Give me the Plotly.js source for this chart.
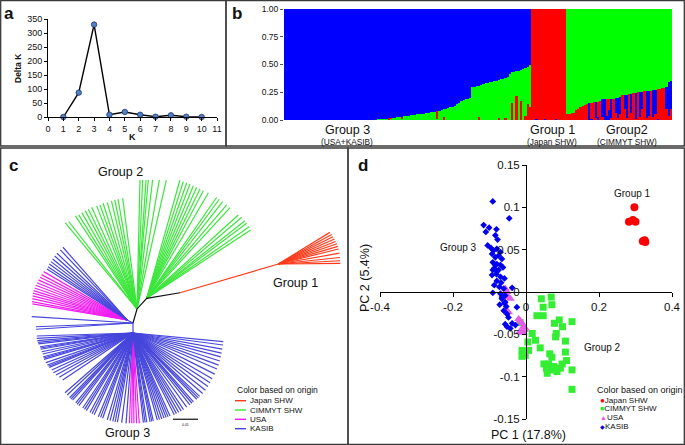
<!DOCTYPE html>
<html><head><meta charset="utf-8">
<script src="https://cdn.plot.ly/plotly-3.0.1.min.js"></script>
<style>html,body{margin:0;padding:0;background:#fff;}#chart{width:685px;height:445px;}</style>
</head><body><div id="chart"></div>
<script>
// ---------- Panel a: Delta K ----------
const kValues = [1,2,3,4,5,6,7,8,9,10];
const deltaK  = [0,87,330,8,18,8,1,6,1,0];

// ---------- Panel b: STRUCTURE K=3 ----------
const group3NonBlue = [0,0,0,0,0,0,0,0,0,0, 0,0,0,0,0,0,0,0,0,0, 0,0,0,0,0,0,0,0,0,0, 0,0,0,0,0,0,0,0,0,0,
  .002,.004,.005,.006,.008,.010,.012,.014,.016,.020,
  .022,.025,.027,.030,.032,.035,.038,.042,.045,.047,
  .050,.052,.055,.058,.060,.064,.068,.072,.076,.080,
  .085,.090,.095,.100,.107,.113,.120,.130,.140,.155,
  .170,.180,.185,.190,.200,.295,.300,.305,.310,.318,
  .325,.330,.335,.340,.345,.350,.355,.360,.365,.370,
  .375,.390,.410,.430,.435,.440,.445,.450,.460,.465,
  .480,.500];
const group3Red = [0,0,0,0,0,0,0,0,0,0, 0,0,0,0,0,0,0,0,0,0, 0,0,0,0,0,0,0,0,0,0, 0,0,0,0,0,0,0,0,0,0,
  0,0,0,0,0,0,0,.012,.010,0,
  0,0,0,.020,0,0,0,0,0,0,
  0,0,0,0,0,0,0,0,0,.070,
  0,0,.030,0,0,0,0,0,0,0,
  0,0,0,0,0,0,0,0,.030,0,
  0,0,0,0,0,0,0,.020,0,0,
  .020,0,0,.150,0,.220,0,.170,0,.040,
  .140,.120];
const group1Red = [1,1,.99,1,1,1,.995,1,1,1,1,.99,1,1,1,1];
const group2NonGreen = [.055,.058,.060,.060,.090,.100,.120,.130,.135,.140,
  .150,.155,.160,.160,.165,.170,.185,.186,.188,.190,
  .190,.192,.195,.200,.210,.222,.225,.228,.230,.235,
  .240,.245,.248,.250,.255,.258,.260,.262,.265,.270,
  .272,.275,.280,.285,.290,.300,.340,.350];
const group2Red = [.055,.058,.060,.060,.090,.100,.120,.130,.135,.140,
  0,.150,.160,.020,.140,.170,.030,0,.150,.100,
  .020,.190,.060,.020,.050,.220,.100,.020,.230,.060,
  .240,.010,.245,.030,.100,.255,.020,.040,.265,.030,
  .050,.270,.280,.285,.290,.100,.040,.100];
const structureGroups = ['Group 3','Group 1','Group2'];
const structureSubs = ['(USA+KASIB)','(Japan SHW)','(CIMMYT SHW)'];

// ---------- Panel c: unrooted tree (angles in degrees, branch lengths) ----------
// internal edges: hub->g1, g1->g2, g2->redBase, redBase->redNode, hub->U, hub->L
const innerAngles  = [74, 47.8, 9.5, 16.3, 153, 270];
const innerLengths = [14.6, 14.4, 33.8, 102.4, 6.7, 10];
const redAngles  = [31.5,29,26.5,24,21.5,19,16.5,14,10,6,3,0.6];
const redLengths = [60.5,61,61,61.5,61.5,62,62,62,62,62,62,62];
const greenLeftAngles  = [129.8,128,123.5,121.8,119.8,117.8,116,114,111.4,109.6,107.8,105.6,103.3,101.5,99.8,97.4];
const greenLeftLengths = [112,111,111.6,110.7,111,111.2,111,111.4,110.7,110.5,111,110.5,111.1,111.4,111.4,111.7];
const greenMidAngles  = [88.7,87.5,86,85,83.1,80.2,77.2];
const greenMidLengths = [129,129.1,129.3,129.5,130,131,132.2];
const greenRightAngles  = [74.3,72.6,70.9,69.25,67.5,65.75,64,62.25,59.7,55.3,53.75,51.8,49.4,47.4,42.3,40.45,38.3,36.9,34.9,33.3];
const greenRightLengths = [122.9,122.2,122.3,122.2,121.9,121.7,121.6,121.6,122.3,122.9,122.8,122.9,122.9,123.1,123.8,124.8,125.2,125,125.1,124.4];
const ulBlueAngles  = [131.4,133.6,136.4,138.5,140.65,142.5,144.2,146,147.5];
const ulBlueLengths = [96.9,96.7,96.7,96.6,96.2,95.8,95.8,95.3,94.9];
const ulPinkAngles  = [149.9,152.05,153.85,155.7,157.5,159.2,160.9,162.6,164.1,165.7,167.3,169.1,170.4];
const ulPinkLengths = [96.4,96.7,96.9,97.3,97.4,97.8,97.8,97.9,97.7,97.4,97.1,96.7,96];
const hubBlueAngles  = [176.4,182.2,183.7];
const hubBlueLengths = [101.5,97.1,97.1];
const lowBlueAngles = [181.8,183.2,184.6,185.6,186.6,188.4,189.2,190,191.6,193.1,194.8,195.6,196.5,198.8,200.5,201.4,202.3,204.5,206.5,208.6,211,213.8,
  221.3,223.3,225.6,226.8,228,230.7,231.9,233.3,236.2,237.6,239,241.6,243.1,244.6,247.5,249,250.4,253.5,255.3,257.1,258.6,260.1,262.8,265.6,
  276.6,277.7,278.8,280.9,282,283,285.6,287,288.5,290,291.4,292.7,294,296.8,298.3,299.9,301.7,303.4,305.9,308.4,310,311.3,313.9,315.2,316.4,319,321.7,324.5,327.1,330,333.3,336.8,339.4,342.1,344.8,347.2,349.8,352.4,354.5];
const lowBlueLengths = [96.3,96.4,96,95.6,95.3,94,93.8,93.7,93.2,92.7,92.8,92.8,92.8,92,91.5,91,90.5,89.3,89,87.7,86,84.6,
  90.5,90.4,90.6,90.5,90.3,90.4,90.6,90.5,90.3,90.5,90.6,90.4,90.5,90.6,90.6,90.4,90.5,90.6,90.5,90.7,90.6,90.5,90.4,90.6,
  90.2,90.3,90.3,90.4,90.3,90.3,90.5,90.6,90.7,90.6,90.8,90.9,90.9,91.5,91.6,91.6,91.8,91.7,91.6,91.6,91.7,91.6,92,92,92,92.3,92.3,92.1,91.8,91.5,91.5,91.3,91.4,91.2,91,90.8,90.7,90.8,90.7];
const lowPinkAngles  = [267.7,269.2,270.6,272.3,274];
const lowPinkLengths = [90.3,90.3,90.3,90.4,90.5];
const treeLegend = ['Japan SHW','CIMMYT SHW','USA','KASIB'];

// ---------- Panel d: PCA ----------
const japanX = [0.297,0.282,0.293,0.300,0.320,0.325,0.327];
const japanY = [0.100,0.083,0.085,0.083,0.060,0.061,0.059];
const cimmytX = [0.042,0.069,0.071,0.047,0.030,0.047,0.091,0.078,0.126,0.100,-0.016,0.017,0.005,0.026,0.039,-0.011,0.007,-0.002,-0.011,0.083,0.081,0.108,0.108,0.065,0.071,0.049,0.062,0.076,0.056,0.067,0.085,0.058,0.094,0.111,0.099,0.126,0.126];
const cimmytY = [-0.008,-0.006,-0.015,-0.018,-0.028,-0.028,-0.033,-0.037,-0.035,-0.041,-0.036,-0.049,-0.059,-0.057,-0.066,-0.069,-0.069,-0.075,-0.076,-0.049,-0.053,-0.058,-0.071,-0.073,-0.077,-0.085,-0.085,-0.088,-0.090,-0.092,-0.094,-0.096,-0.090,-0.081,-0.085,-0.092,-0.115];
const usaX = [-0.057,-0.052,-0.048,-0.043,-0.052,-0.048,-0.020,-0.016,-0.011,-0.007,-0.011,-0.005,-0.017,-0.002,-0.008];
const usaY = [0.004,0.000,-0.006,-0.008,-0.022,-0.024,-0.032,-0.034,-0.037,-0.041,-0.047,-0.045,-0.047,-0.043,-0.048];
const kasibX = [-0.091,-0.046,-0.116,-0.101,-0.081,-0.110,-0.084,-0.078,-0.105,-0.096,-0.089,-0.080,-0.070,-0.093,-0.084,-0.075,-0.066,-0.091,-0.080,-0.070,-0.087,-0.075,-0.063,-0.093,-0.081,-0.070,-0.059,-0.080,-0.068,-0.087,-0.073,-0.061,-0.038,-0.091,-0.070,-0.057,-0.066,-0.059,-0.072,-0.054,-0.061,-0.052,-0.048,-0.057,-0.052,-0.038,-0.084,-0.091,-0.080,-0.025,-0.043,-0.029,-0.066,-0.057];
const kasibY = [0.107,0.087,0.079,0.076,0.074,0.071,0.067,0.062,0.055,0.052,0.049,0.051,0.047,0.045,0.041,0.043,0.039,0.035,0.033,0.032,0.028,0.026,0.029,0.020,0.021,0.018,0.016,0.013,0.011,0.008,0.006,0.004,0.005,-0.001,-0.002,-0.004,-0.008,-0.013,-0.015,-0.017,-0.022,-0.026,-0.030,-0.038,-0.041,-0.037,0.032,0.026,0.024,-0.018,-0.043,-0.039,-0.006,-0.012];
const pcaLegend = ['Japan SHW','CIMMYT SHW','USA','KASIB'];

// ---------- build ----------
const W = 685, H = 445;
const PX = x => x / W, PY = y => 1 - y / H;
const FONT = 'Arial, "Liberation Sans", sans-serif';
const RED = '#FF0000', GREEN = '#00FF00', BLUE = '#0000FF';
const tRed = '#FF3A1A', tGreen = '#3BE63B', tBlue = '#4646DC', tPink = '#F01EF0';

// bars
const qR = [], qG = [], qB = [];
group3NonBlue.forEach((nb, i) => { const r = group3Red[i]; qR.push(r); qG.push(nb - r); qB.push(1 - nb); });
group1Red.forEach(r => { qR.push(r); qG.push(0); qB.push(1 - r); });
group2NonGreen.forEach((ng, i) => { const r = group2Red[i]; qR.push(r); qB.push(ng - r); qG.push(1 - ng); });
const nInd = qR.length;
const idx = [...Array(nInd).keys()];
const bases = {r: [], g: [], b: []};
for (let i = 0; i < nInd; i++) {
  const parts = [['r', qR[i]], ['g', qG[i]], ['b', qB[i]]].sort((a, b) => a[1] - b[1]);
  let acc = 0;
  parts.forEach(p => { bases[p[0]][i] = acc; acc += p[1]; });
}
function barTrace(vals, base, color) {
  return {type: 'bar', x: idx, y: vals, base: base, width: 1, xaxis: 'x2', yaxis: 'y2',
    marker: {color: color, line: {width: 0}}, hoverinfo: 'skip', showlegend: false};
}

// tree
function pol(node, ang, len) { const a = ang * Math.PI / 180; return [node[0] + len * Math.cos(a), node[1] + len * Math.sin(a)]; }
const hub = [0, 0];
const g1 = pol(hub, innerAngles[0], innerLengths[0]);
const g2 = pol(g1, innerAngles[1], innerLengths[1]);
const rb = pol(g2, innerAngles[2], innerLengths[2]);
const rn = pol(rb, innerAngles[3], innerLengths[3]);
const U = pol(hub, innerAngles[4], innerLengths[4]);
const Lw = pol(hub, innerAngles[5], innerLengths[5]);
function fan(node, angs, lens, acc) {
  angs.forEach((a, i) => { const t = pol(node, a, lens[i]); acc.x.push(node[0], t[0], null); acc.y.push(node[1], t[1], null); });
  return acc;
}
function seg(a, b, acc) { acc.x.push(a[0], b[0], null); acc.y.push(a[1], b[1], null); return acc; }
const blackPath = {x: [hub[0], g1[0], g2[0], rb[0]], y: [hub[1], g1[1], g2[1], rb[1]]};
const redLines = fan(rn, redAngles, redLengths, seg(rb, rn, {x: [], y: []}));
const greenLines = fan(g2, greenRightAngles, greenRightLengths, fan(g1, greenMidAngles, greenMidLengths, fan(g1, greenLeftAngles, greenLeftLengths, {x: [], y: []})));
let blueLines = seg(hub, U, {x: [], y: []}); seg(hub, Lw, blueLines);
fan(U, ulBlueAngles, ulBlueLengths, blueLines); fan(hub, hubBlueAngles, hubBlueLengths, blueLines); fan(Lw, lowBlueAngles, lowBlueLengths, blueLines);
const pinkLines = fan(Lw, lowPinkAngles, lowPinkLengths, fan(U, ulPinkAngles, ulPinkLengths, {x: [], y: []}));
function treeTrace(d, color) {
  return {type: 'scatter', mode: 'lines', x: d.x, y: d.y, xaxis: 'x3', yaxis: 'y3',
    line: {color: color, width: 1.2}, hoverinfo: 'skip', showlegend: false, connectgaps: false};
}

const data = [
  {type: 'scatter', mode: 'lines+markers', x: kValues, y: deltaK, xaxis: 'x', yaxis: 'y', cliponaxis: false,
   line: {color: '#000', width: 1.4}, marker: {color: '#4F7FC8', size: 5.5, line: {color: '#1F3864', width: 0.8}},
   hoverinfo: 'skip', showlegend: false},
  barTrace(qR, bases.r, RED), barTrace(qG, bases.g, GREEN), barTrace(qB, bases.b, BLUE),
  treeTrace(greenLines, tGreen), treeTrace(pinkLines, tPink), treeTrace(blueLines, tBlue),
  treeTrace(blackPath, '#111'), treeTrace(redLines, tRed),
  {type: 'scatter', mode: 'markers', x: japanX, y: japanY, xaxis: 'x4', yaxis: 'y4', cliponaxis: false,
   marker: {symbol: 'circle', size: 8, color: '#FF0000'}, hoverinfo: 'skip', showlegend: false},
  {type: 'scatter', mode: 'markers', x: cimmytX, y: cimmytY, xaxis: 'x4', yaxis: 'y4', cliponaxis: false,
   marker: {symbol: 'square', size: 7, color: '#33EE33'}, hoverinfo: 'skip', showlegend: false},
  {type: 'scatter', mode: 'markers', x: usaX, y: usaY, xaxis: 'x4', yaxis: 'y4', cliponaxis: false,
   marker: {symbol: 'triangle-up', size: 8, color: '#E65CE6'}, hoverinfo: 'skip', showlegend: false},
  {type: 'scatter', mode: 'markers', x: kasibX, y: kasibY, xaxis: 'x4', yaxis: 'y4', cliponaxis: false,
   marker: {symbol: 'diamond', size: 5.2, color: '#0000EE'}, hoverinfo: 'skip', showlegend: false}
];

const ax = {showgrid: false, zeroline: false, fixedrange: true};
const ann = [];
function T(text, x, y, size, opts) {
  ann.push(Object.assign({text: text, x: PX(x), y: PY(y), xref: 'paper', yref: 'paper', showarrow: false,
    font: {family: FONT, size: size, color: '#111'}, xanchor: 'center', yanchor: 'middle'}, opts || {}));
}
// panel labels
T('<b>a</b>', 9, 14, 17); T('<b>b</b>', 237, 14, 17); T('<b>c</b>', 13, 165, 17); T('<b>d</b>', 363, 165, 17);
// panel a titles
T('<b>Delta K</b>', 18, 68, 8.5, {textangle: -90}); T('<b>K</b>', 132, 137, 9);
// panel b group labels
const bCenters = [347, 552, 627];
structureGroups.forEach((g, i) => { T(g, bCenters[i], 129.5, 12.5); T(structureSubs[i], bCenters[i], 141.5, 8.3); });
// panel c labels
T('Group 2', 120, 172, 12.5); T('Group 1', 295, 283, 12.5); T('Group 3', 128, 433, 12.5);
T('Color based on origin', 235, 390, 8.5, {xanchor: 'left'});
const legY = [400.7, 410, 419.3, 428.7];
const legC = [tRed, tGreen, tPink, tBlue];
treeLegend.forEach((t, i) => T(t, 248, legY[i], 8, {xanchor: 'left'}));
T('0.01', 185.5, 424.5, 3.5);
// panel d labels
T('Group 1', 632, 193, 10); T('Group 3', 458, 247, 10); T('Group 2', 602, 347, 10);
T('PC 1 (17.8%)', 528, 435, 12.5); T('PC 2 (5.4%)', 365, 278, 12.5, {textangle: -90});
T('Color based on origin', 595, 389.5, 9, {xanchor: 'left'});
const dSym = ['●', '■', '▲', '◆'], dCol = ['#FF0000', '#33EE33', '#E65CE6', '#0000EE'], dSz = [8, 7, 7, 6];
const dY = [400, 408.7, 417.4, 426.4];
pcaLegend.forEach((t, i) => T('<span style="color:' + dCol[i] + ';font-size:' + dSz[i] + 'px">' + dSym[i] + '</span>' + t, 598, dY[i], 8, {xanchor: 'left'}));

const shapes = [];
function box(x0, y0, x1, y1) { shapes.push({type: 'rect', xref: 'paper', yref: 'paper', x0: PX(x0), x1: PX(x1), y0: PY(y0), y1: PY(y1), line: {color: '#3a3a3a', width: 1.3}}); }
box(0.7, 0.7, 226, 146); box(226, 0.7, 684.3, 146); box(0.7, 148, 348, 444.3); box(348, 148, 684.3, 444.3);
legC.forEach((c, i) => shapes.push({type: 'line', xref: 'paper', yref: 'paper', x0: PX(235), x1: PX(246), y0: PY(legY[i]), y1: PY(legY[i]), line: {color: c, width: 1.4}}));
shapes.push({type: 'line', xref: 'paper', yref: 'paper', x0: PX(173), x1: PX(198), y0: PY(419.3), y1: PY(419.3), line: {color: '#333', width: 1.4}});

const yDomD = [PY(419), PY(165)], xDomD = [PX(380), PX(672)];
const layout = {
  width: W, height: H, margin: {l: 0, r: 0, t: 0, b: 0, pad: 0}, paper_bgcolor: '#fff', plot_bgcolor: 'rgba(0,0,0,0)',
  barmode: 'overlay', bargap: 0, showlegend: false, font: {family: FONT, color: '#111'},
  xaxis: Object.assign({}, ax, {domain: [PX(48), PX(217)], range: [0, 11], tickvals: [0,1,2,3,4,5,6,7,8,9,10,11], anchor: 'y',
    showline: true, linecolor: '#000', linewidth: 1, ticks: 'outside', ticklen: 3, tickcolor: '#000', tickfont: {size: 9, family: FONT}}),
  yaxis: Object.assign({}, ax, {domain: [PY(117), PY(19)], range: [0, 350], tickvals: [0,50,100,150,200,250,300,350], anchor: 'x',
    showline: true, linecolor: '#000', linewidth: 1, ticks: 'outside', ticklen: 3, tickcolor: '#000', tickfont: {size: 9, family: FONT}}),
  xaxis2: Object.assign({}, ax, {domain: [PX(284), PX(672)], range: [-0.5, nInd - 0.5], visible: false, anchor: 'y2'}),
  yaxis2: Object.assign({}, ax, {domain: [PY(120), PY(9)], range: [0, 1], anchor: 'x2', tickvals: [0, .25, .5, .75, 1],
    ticktext: ['0.00', '0.25', '0.50', '0.75', '1.00'], ticks: 'outside', ticklen: 3, tickcolor: '#555', showline: false,
    tickfont: {size: 8.5, family: FONT}}),
  xaxis3: Object.assign({}, ax, {domain: [0, PX(347)], range: [-133, 214], visible: false, anchor: 'y3'}),
  yaxis3: Object.assign({}, ax, {domain: [PY(444), PY(148)], range: [-121, 175], visible: false, anchor: 'x3'}),
  xaxis4: Object.assign({}, ax, {domain: xDomD, range: [-0.4, 0.4], anchor: 'free', position: (yDomD[0] + yDomD[1]) / 2,
    tickvals: [-0.4, -0.2, 0, 0.2, 0.4], ticktext: ['-0.4', '-0.2', '0', '0.2', '0.4'], showline: true, linecolor: '#000',
    ticks: 'outside', ticklen: 4, tickcolor: '#000', tickfont: {size: 11.5, family: FONT}}),
  yaxis4: Object.assign({}, ax, {domain: yDomD, range: [-0.15, 0.15], anchor: 'free', position: (xDomD[0] + xDomD[1]) / 2,
    tickvals: [-0.15, -0.1, -0.05, 0, 0.05, 0.1, 0.15], ticktext: ['-0.15', '-0.1', '-0.05', '0', '0.05', '0.1', '0.15'],
    showline: true, linecolor: '#000', ticks: 'outside', ticklen: 4, tickcolor: '#000', tickfont: {size: 11.5, family: FONT}}),
  annotations: ann, shapes: shapes
};
Plotly.newPlot('chart', data, layout, {displayModeBar: false, staticPlot: true});
</script></body></html>
